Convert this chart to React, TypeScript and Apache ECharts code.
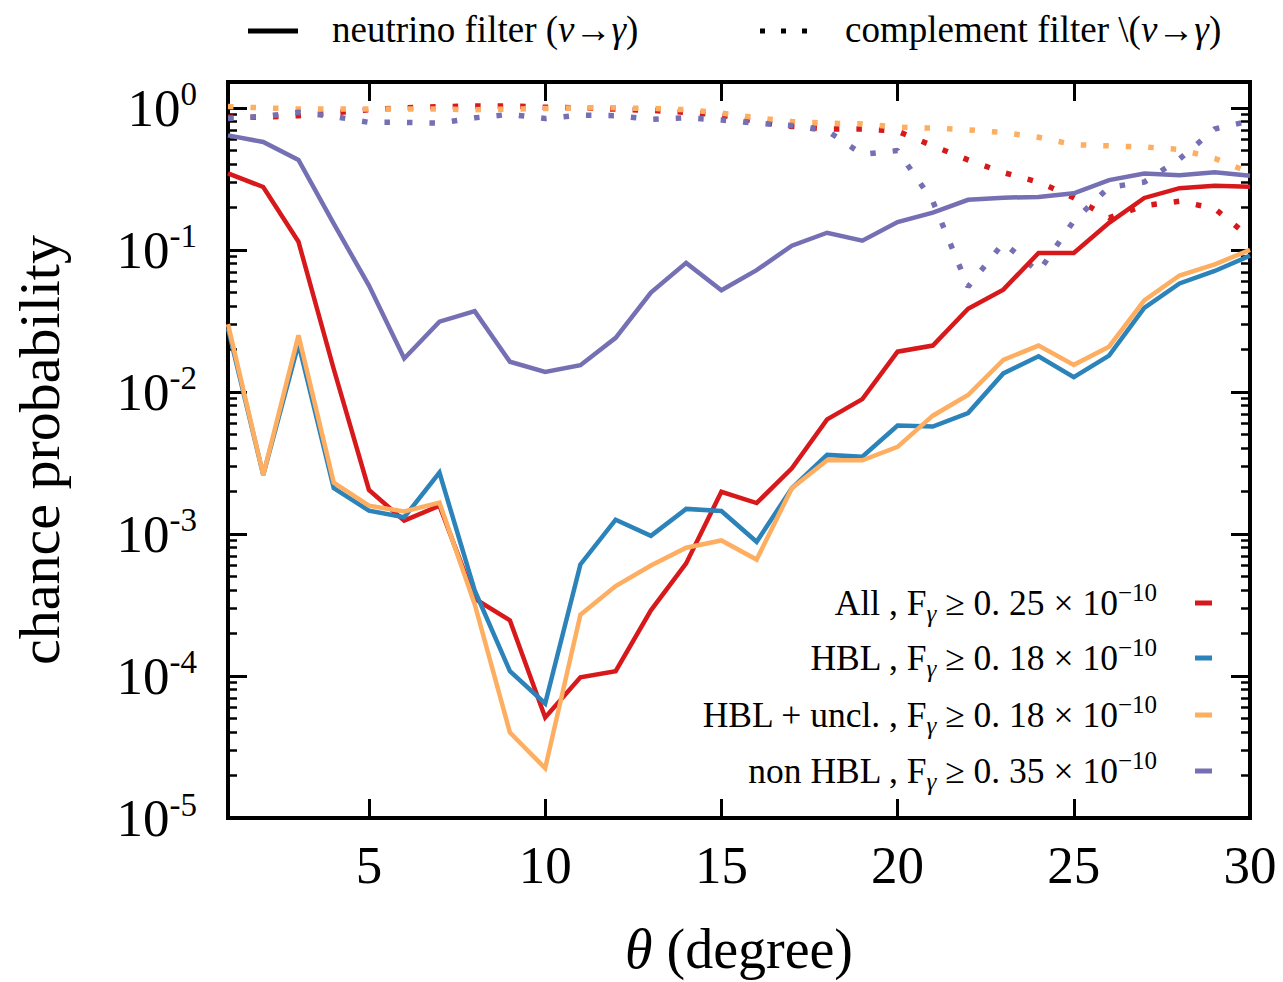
import React, { useEffect, useRef } from "react";
import * as echarts from "echarts";

const FONT = "'Liberation Serif', 'DejaVu Serif', serif";

const thetaDeg = [1, 2, 3, 4, 5, 6, 7, 8, 9, 10, 11, 12, 13, 14, 15, 16, 17, 18, 19, 20, 21, 22, 23, 24, 25, 26, 27, 28, 29, 30];

// neutrino filter (solid)
const allSolid = [0.345, 0.277, 0.114, 0.0145, 0.00204, 0.00124, 0.00158, 0.00035, 0.000246, 5.1e-5, 9.8e-5, 1.08e-4, 2.9e-4, 6.2e-4, 0.00198, 0.00165, 0.0029, 0.0064, 0.0089, 0.0192, 0.0212, 0.0385, 0.0525, 0.095, 0.095, 0.155, 0.232, 0.272, 0.283, 0.278];
const hblSolid = [0.028, 0.0026, 0.0218, 0.0021, 0.00146, 0.00131, 0.0027, 0.0004, 1.08e-4, 6.4e-5, 6.1e-4, 0.00126, 0.00097, 0.0015, 0.00145, 0.00088, 0.0021, 0.0036, 0.0035, 0.0058, 0.0057, 0.0071, 0.0135, 0.0178, 0.0127, 0.018, 0.039, 0.058, 0.071, 0.091];
const hblUnclSolid = [0.03, 0.0026, 0.025, 0.0023, 0.00158, 0.00144, 0.00166, 0.00032, 4.0e-5, 2.24e-5, 2.7e-4, 4.3e-4, 6.0e-4, 8.0e-4, 9.0e-4, 0.00066, 0.0021, 0.0033, 0.0033, 0.0041, 0.0068, 0.0095, 0.0168, 0.0212, 0.0155, 0.0208, 0.044, 0.066, 0.079, 0.1];
const nonHblSolid = [0.64, 0.575, 0.43, 0.153, 0.056, 0.0172, 0.0312, 0.037, 0.0163, 0.0138, 0.0154, 0.024, 0.05, 0.081, 0.052, 0.072, 0.107, 0.132, 0.116, 0.157, 0.183, 0.225, 0.233, 0.236, 0.25, 0.31, 0.345, 0.335, 0.352, 0.332];

// complement filter (dotted)
const allDotted = [0.86, 0.86, 0.88, 0.92, 0.97, 1.0, 1.02, 1.03, 1.03, 1.01, 1.0, 0.98, 0.96, 0.93, 0.89, 0.8, 0.74, 0.71, 0.71, 0.685, 0.54, 0.43, 0.35, 0.3, 0.233, 0.168, 0.205, 0.22, 0.195, 0.122];
const hblUnclDotted = [1.02, 1.0, 0.98, 0.98, 0.98, 0.98, 0.98, 0.97, 0.98, 0.99, 1.0, 1.0, 0.99, 0.97, 0.92, 0.85, 0.8, 0.78, 0.77, 0.73, 0.72, 0.7, 0.67, 0.62, 0.55, 0.54, 0.53, 0.51, 0.44, 0.35];
const nonHblDotted = [0.84, 0.87, 0.93, 0.87, 0.79, 0.79, 0.78, 0.85, 0.9, 0.84, 0.89, 0.88, 0.83, 0.85, 0.82, 0.78, 0.75, 0.69, 0.47, 0.5, 0.22, 0.055, 0.112, 0.07, 0.16, 0.276, 0.3, 0.436, 0.71, 0.81];

const seriesNames = ["All", "HBL", "HBL + uncl.", "non HBL"];
const fluxThresholds = ["0. 25", "0. 18", "0. 18", "0. 35"];
const seriesColors = ["#d7191c", "#2b83ba", "#fdae61", "#7570b3"];

const xTicks = [5, 10, 15, 20, 25, 30];
const yMajorTicks = [1e-5, 1e-4, 1e-3, 1e-2, 1e-1, 1];
const yMinorTicks: number[] = [];
for (let e = -5; e < 0; e++) {
  for (let m = 2; m <= 9; m++) yMinorTicks.push(m * Math.pow(10, e));
}

const X_MIN = 1;
const X_MAX = 30;
const Y_MIN = 1e-5;
const Y_MAX = 1.52;

function pairs(vals: number[]) {
  return thetaDeg.map((t, i) => [t, vals[i]]);
}

export default function App() {
  const ref = useRef<HTMLDivElement>(null);

  useEffect(() => {
    if (!ref.current) return;
    const chart = echarts.init(ref.current, undefined, { renderer: "svg" });

    const solidLine = (name: string, vals: number[], color: string) => ({
      name,
      type: "line",
      data: pairs(vals),
      showSymbol: false,
      symbol: "none",
      lineStyle: { color, width: 4.5, cap: "butt", join: "miter" },
      itemStyle: { color },
      z: 3,
    });
    const dottedLine = (name: string, vals: number[], color: string) => ({
      name,
      type: "line",
      data: pairs(vals),
      showSymbol: false,
      symbol: "none",
      lineStyle: { color, width: 5.5, type: [5.5, 17], cap: "butt" },
      itemStyle: { color },
      z: 2,
    });

    const yAxisBase = (position: string, minor: boolean, labels: boolean) => ({
      type: "log",
      logBase: 10,
      min: Y_MIN,
      max: Y_MAX,
      position,
      axisLine: { show: false },
      splitLine: { show: false },
      axisTick: {
        show: true,
        inside: true,
        length: minor ? 9 : 19,
        lineStyle: { color: "#000", width: minor ? 2.5 : 3 },
        customValues: minor ? yMinorTicks : yMajorTicks,
      },
      axisLabel: labels
        ? {
            show: true,
            margin: 31,
            customValues: yMajorTicks,
            formatter: (v: number) => {
              const e = Math.round(Math.log10(v));
              return `{b|10}{s|${e}}`;
            },
            rich: {
              b: { fontSize: 53, fontFamily: FONT, color: "#000", lineHeight: 60 },
              s: { fontSize: 33, fontFamily: FONT, color: "#000", lineHeight: 33, verticalAlign: "top" },
            },
          }
        : { show: false },
      name: labels ? "chance probability" : "",
      nameLocation: "middle",
      nameGap: 160,
      nameTextStyle: { fontSize: 58, fontFamily: FONT, color: "#000" },
    });

    const legendRowsY = [603, 658, 715, 771];
    const legendGraphics: any[] = [];
    seriesNames.forEach((n, i) => {
      legendGraphics.push({
        type: "text",
        x: 1157,
        y: legendRowsY[i],
        style: {
          text: `{t|${n} , F}{sub|γ}{t| ≥ ${fluxThresholds[i]} × 10}{sup|−10}`,
          rich: {
            t: { fontSize: 35.5, fontFamily: FONT, lineHeight: 46 },
            sub: { fontSize: 25, fontFamily: FONT, fontStyle: "italic", lineHeight: 25, verticalAlign: "bottom" },
            sup: { fontSize: 25, fontFamily: FONT, lineHeight: 25, verticalAlign: "top" },
          },
          fill: "#000",
          textAlign: "right",
          textVerticalAlign: "middle",
        },
      });
      legendGraphics.push({
        type: "rect",
        shape: { x: 1195, y: legendRowsY[i] - 2.5, width: 17, height: 5 },
        style: { fill: seriesColors[i] },
      });
    });

    const topLegend: any[] = [
      {
        type: "line",
        shape: { x1: 248, y1: 31, x2: 298, y2: 31 },
        style: { stroke: "#000", lineWidth: 5 },
      },
      {
        type: "text",
        x: 332,
        y: 29,
        style: {
          text: "{t|neutrino filter (}{g|ν}{t|→}{g|γ}{t|)}",
          rich: {
            t: { fontSize: 37, fontFamily: FONT },
            g: { fontSize: 37, fontFamily: FONT, fontStyle: "italic" },
          },
          fill: "#000",
          textAlign: "left",
          textVerticalAlign: "middle",
        },
      },
      {
        type: "line",
        shape: { x1: 760, y1: 31, x2: 812, y2: 31 },
        style: { stroke: "#000", lineWidth: 5, lineDash: [5, 16] },
      },
      {
        type: "text",
        x: 845,
        y: 29,
        style: {
          text: "{t|complement filter \\(}{g|ν}{t|→}{g|γ}{t|)}",
          rich: {
            t: { fontSize: 37, fontFamily: FONT },
            g: { fontSize: 37, fontFamily: FONT, fontStyle: "italic" },
          },
          fill: "#000",
          textAlign: "left",
          textVerticalAlign: "middle",
        },
      },
    ];

    const option: any = {
      animation: false,
      backgroundColor: "#fff",
      textStyle: { fontFamily: FONT },
      grid: {
        left: 228,
        right: 33,
        top: 82,
        bottom: 159,
        show: true,
        borderColor: "#000",
        borderWidth: 4,
        backgroundColor: "transparent",
        containLabel: false,
      },
      xAxis: [
        {
          type: "value",
          min: X_MIN,
          max: X_MAX,
          position: "bottom",
          axisLine: { show: false },
          splitLine: { show: false },
          axisTick: {
            show: true,
            inside: true,
            length: 19,
            lineStyle: { color: "#000", width: 3 },
            customValues: xTicks,
          },
          axisLabel: {
            show: true,
            margin: 20,
            customValues: xTicks,
            fontSize: 53,
            fontFamily: FONT,
            color: "#000",
          },
          name: "{g|θ}{t| (degree)}",
          nameLocation: "middle",
          nameGap: 103,
          nameTextStyle: {
            rich: {
              g: { fontSize: 56, fontFamily: FONT, fontStyle: "italic", color: "#000" },
              t: { fontSize: 56, fontFamily: FONT, color: "#000" },
            },
          },
        },
        {
          type: "value",
          min: X_MIN,
          max: X_MAX,
          position: "top",
          axisLine: { show: false },
          splitLine: { show: false },
          axisTick: {
            show: true,
            inside: true,
            length: 19,
            lineStyle: { color: "#000", width: 3 },
            customValues: xTicks,
          },
          axisLabel: { show: false },
        },
      ],
      yAxis: [
        yAxisBase("left", false, true),
        yAxisBase("right", false, false),
        yAxisBase("left", true, false),
        yAxisBase("right", true, false),
      ],
      series: [
        solidLine(seriesNames[0], allSolid, seriesColors[0]),
        dottedLine(seriesNames[0] + " (complement)", allDotted, seriesColors[0]),
        solidLine(seriesNames[1], hblSolid, seriesColors[1]),
        solidLine(seriesNames[2], hblUnclSolid, seriesColors[2]),
        dottedLine(seriesNames[2] + " (complement)", hblUnclDotted, seriesColors[2]),
        solidLine(seriesNames[3], nonHblSolid, seriesColors[3]),
        dottedLine(seriesNames[3] + " (complement)", nonHblDotted, seriesColors[3]),
      ],
      graphic: [...topLegend, ...legendGraphics],
    };

    chart.setOption(option);
    return () => chart.dispose();
  }, []);

  return (
    <div
      ref={ref}
      style={{ position: "fixed", left: 0, top: 0, width: 1283, height: 982, background: "#fff" }}
    />
  );
}
